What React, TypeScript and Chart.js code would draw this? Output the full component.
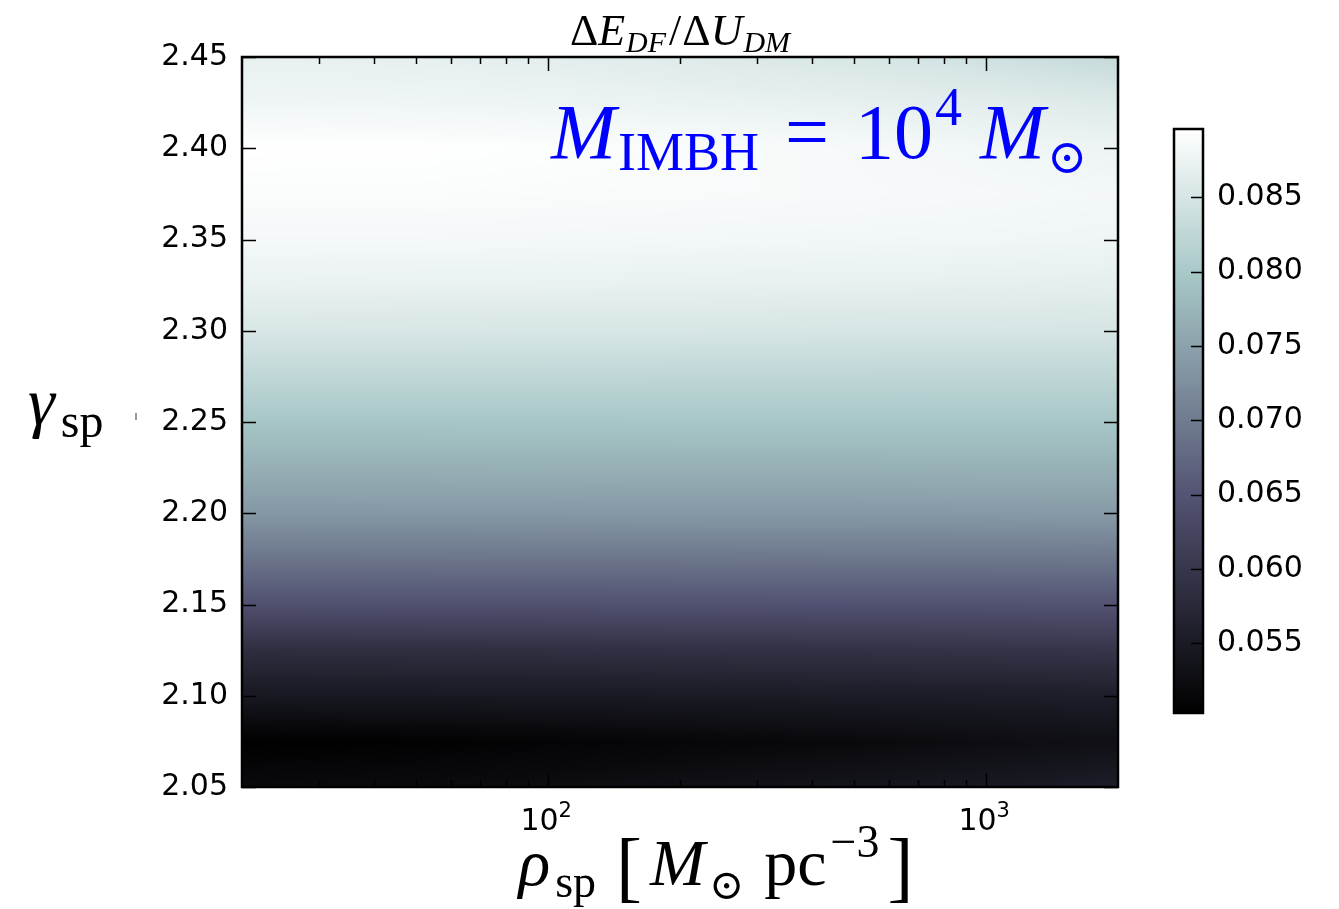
import React, { useEffect, useRef } from 'react';
import { Chart, registerables } from 'chart.js';

Chart.register(...registerables);

// ---- data ----
const RHO = [20, 50, 100, 200, 500, 1000, 2000];
const GAMMA = [2.05, 2.075, 2.1, 2.125, 2.15, 2.175, 2.2, 2.225, 2.25, 2.275, 2.3, 2.325, 2.35, 2.375, 2.4, 2.425, 2.45];
// rows follow GAMMA, columns follow RHO
const DF_RATIO: number[][] = [
  [0.0520, 0.0522, 0.0525, 0.0530, 0.0538, 0.0546, 0.0555],
  [0.0503, 0.0506, 0.0510, 0.0514, 0.0519, 0.0525, 0.0530],
  [0.0545, 0.0546, 0.0547, 0.0549, 0.0551, 0.0553, 0.0556],
  [0.0584, 0.0585, 0.0587, 0.0589, 0.0591, 0.0594, 0.0597],
  [0.0644, 0.0645, 0.0645, 0.0646, 0.0647, 0.0647, 0.0648],
  [0.0692, 0.0692, 0.0693, 0.0693, 0.0694, 0.0694, 0.0695],
  [0.0736, 0.0737, 0.0737, 0.0738, 0.0738, 0.0739, 0.0740],
  [0.0767, 0.0767, 0.0768, 0.0768, 0.0768, 0.0769, 0.0769],
  [0.0796, 0.0796, 0.0796, 0.0797, 0.0797, 0.0797, 0.0797],
  [0.0825, 0.0825, 0.0825, 0.0824, 0.0824, 0.0823, 0.0823],
  [0.0852, 0.0852, 0.0851, 0.0851, 0.0850, 0.0850, 0.0849],
  [0.0872, 0.0871, 0.0871, 0.0870, 0.0869, 0.0868, 0.0866],
  [0.0884, 0.0884, 0.0883, 0.0882, 0.0881, 0.0880, 0.0878],
  [0.0891, 0.0891, 0.0890, 0.0889, 0.0887, 0.0885, 0.0882],
  [0.0896, 0.0895, 0.0893, 0.0890, 0.0886, 0.0881, 0.0876],
  [0.0879, 0.0878, 0.0876, 0.0873, 0.0869, 0.0864, 0.0858],
  [0.0870, 0.0868, 0.0865, 0.0860, 0.0852, 0.0842, 0.0830],
];
const Y_TICKS = [2.05, 2.1, 2.15, 2.2, 2.25, 2.3, 2.35, 2.4, 2.45];
const X_MAJOR = [100, 1000];
const X_MAJOR_LABELS = ['2', '3'];
const X_MINOR = [30, 40, 50, 60, 70, 80, 90, 200, 300, 400, 500, 600, 700, 800, 900];
const CB_TICKS = [0.055, 0.06, 0.065, 0.07, 0.075, 0.08, 0.085];
const VMIN = 0.0503;
const VMAX = 0.0896;

const SANS = '"DejaVu Sans", sans-serif';
const SERIF = '"Liberation Serif", "DejaVu Serif", serif';

function bone(t: number): [number, number, number] {
  t = Math.max(0, Math.min(1, t));
  const r = t < 0.746032 ? (0.652778 * t) / 0.746032 : 0.652778 + ((t - 0.746032) * (1 - 0.652778)) / (1 - 0.746032);
  const g =
    t < 0.365079
      ? (0.319444 * t) / 0.365079
      : t < 0.746032
      ? 0.319444 + ((t - 0.365079) * (0.777778 - 0.319444)) / (0.746032 - 0.365079)
      : 0.777778 + ((t - 0.746032) * (1 - 0.777778)) / (1 - 0.746032);
  const b = t < 0.365079 ? (0.444444 * t) / 0.365079 : 0.444444 + ((t - 0.365079) * (1 - 0.444444)) / (1 - 0.365079);
  return [Math.round(r * 255), Math.round(g * 255), Math.round(b * 255)];
}

function locate(arr: number[], v: number): [number, number] {
  const n = arr.length;
  if (v <= arr[0]) return [0, 0];
  if (v >= arr[n - 1]) return [n - 2, 1];
  for (let i = 0; i < n - 1; i++) {
    if (v >= arr[i] && v <= arr[i + 1]) return [i, (v - arr[i]) / (arr[i + 1] - arr[i])];
  }
  return [n - 2, 1];
}

const LOG_RHO = RHO.map((r) => Math.log10(r));

function valueAt(rho: number, gamma: number): number {
  const [i, fx] = locate(LOG_RHO, Math.log10(rho));
  const [j, fy] = locate(GAMMA, gamma);
  const a = DF_RATIO[j][i], b = DF_RATIO[j][i + 1];
  const c = DF_RATIO[j + 1][i], d = DF_RATIO[j + 1][i + 1];
  return (a * (1 - fx) + b * fx) * (1 - fy) + (c * (1 - fx) + d * fx) * fy;
}

type Part = { t: string; font: string; dy?: number; gap?: number };

function drawRich(ctx: CanvasRenderingContext2D, parts: Part[], x: number, y: number, align: 'left' | 'center', color: string) {
  ctx.save();
  ctx.fillStyle = color;
  ctx.textBaseline = 'alphabetic';
  ctx.textAlign = 'left';
  let total = 0;
  for (const p of parts) {
    ctx.font = p.font;
    total += ctx.measureText(p.t).width + (p.gap || 0);
  }
  let cx = align === 'center' ? x - total / 2 : x;
  for (const p of parts) {
    ctx.font = p.font;
    ctx.fillText(p.t, cx, y + (p.dy || 0));
    cx += ctx.measureText(p.t).width + (p.gap || 0);
  }
  ctx.restore();
}

const heatmapPlugin = {
  id: 'heatmap',
  beforeDatasetsDraw(chart: any) {
    const { ctx, chartArea: a, scales } = chart;
    const xs = scales.x, ys = scales.y;
    const left = Math.round(a.left), top = Math.round(a.top);
    const w = Math.round(a.right) - left, h = Math.round(a.bottom) - top;
    const off = document.createElement('canvas');
    off.width = w;
    off.height = h;
    const octx = off.getContext('2d')!;
    const img = octx.createImageData(w, h);
    const rhoCol: number[] = [];
    for (let px = 0; px < w; px++) rhoCol.push(xs.getValueForPixel(left + px + 0.5));
    for (let py = 0; py < h; py++) {
      const g = ys.getValueForPixel(top + py + 0.5);
      for (let px = 0; px < w; px++) {
        const v = valueAt(rhoCol[px], g);
        const c = bone((v - VMIN) / (VMAX - VMIN));
        const k = (py * w + px) * 4;
        img.data[k] = c[0];
        img.data[k + 1] = c[1];
        img.data[k + 2] = c[2];
        img.data[k + 3] = 255;
      }
    }
    octx.putImageData(img, 0, 0);
    ctx.drawImage(off, left, top);
  },
};

const decorPlugin = {
  id: 'decor',
  afterDraw(chart: any) {
    const { ctx, chartArea: a, scales } = chart;
    const xs = scales.x, ys = scales.y;
    ctx.save();
    ctx.strokeStyle = '#000';
    // ticks
    ctx.lineWidth = 1.5;
    ctx.beginPath();
    for (const v of Y_TICKS) {
      const p = Math.round(ys.getPixelForValue(v)) + 0.5;
      ctx.moveTo(a.left, p); ctx.lineTo(a.left + 14, p);
      ctx.moveTo(a.right, p); ctx.lineTo(a.right - 14, p);
    }
    for (const v of X_MAJOR) {
      const p = Math.round(xs.getPixelForValue(v)) + 0.5;
      ctx.moveTo(p, a.bottom); ctx.lineTo(p, a.bottom - 14);
      ctx.moveTo(p, a.top); ctx.lineTo(p, a.top + 14);
    }
    for (const v of X_MINOR) {
      const p = Math.round(xs.getPixelForValue(v)) + 0.5;
      ctx.moveTo(p, a.bottom); ctx.lineTo(p, a.bottom - 7);
      ctx.moveTo(p, a.top); ctx.lineTo(p, a.top + 7);
    }
    ctx.stroke();
    // frame
    ctx.lineWidth = 2.5;
    ctx.strokeRect(a.left, a.top, a.right - a.left, a.bottom - a.top);
    ctx.restore();

    // x tick labels 10^n
    X_MAJOR.forEach((v, i) => {
      const p = xs.getPixelForValue(v);
      drawRich(ctx, [
        { t: '10', font: `30px ${SANS}` },
        { t: X_MAJOR_LABELS[i], font: `21px ${SANS}`, dy: -13 },
      ], p - 2, 830, 'center', '#000');
    });

    // title
    drawRich(ctx, [
      { t: 'Δ', font: `44px ${SERIF}` },
      { t: 'E', font: `italic 44px ${SERIF}`, gap: 1 },
      { t: 'DF', font: `italic 30px ${SERIF}`, dy: 7, gap: 3 },
      { t: '/', font: `44px ${SERIF}`, gap: 1 },
      { t: 'Δ', font: `44px ${SERIF}` },
      { t: 'U', font: `italic 44px ${SERIF}`, gap: 1 },
      { t: 'DM', font: `italic 30px ${SERIF}`, dy: 7 },
    ], 680, 45, 'center', '#000');

    // x label
    drawRich(ctx, [
      { t: 'ρ', font: `italic 66px ${SERIF}`, gap: 5 },
      { t: 'sp', font: `46px ${SERIF}`, dy: 12, gap: 20 },
      { t: '[', font: `78px ${SERIF}`, dy: 8, gap: 8 },
      { t: 'M', font: `italic 66px ${SERIF}`, gap: 4 },
      { t: '⊙', font: `42px ${SERIF}`, dy: 14, gap: 20 },
      { t: 'pc', font: `66px ${SERIF}`, gap: 4 },
      { t: '−3', font: `46px ${SERIF}`, dy: -28, gap: 8 },
      { t: ']', font: `78px ${SERIF}`, dy: 8 },
    ], 716, 885, 'center', '#000');

    // y label
    drawRich(ctx, [
      { t: 'γ', font: `italic 68px ${SERIF}`, gap: 6 },
      { t: 'sp', font: `48px ${SERIF}`, dy: 12 },
    ], 28, 425, 'left', '#000');
    ctx.save();
    ctx.strokeStyle = '#777';
    ctx.lineWidth = 1.5;
    ctx.beginPath();
    ctx.moveTo(136, 413); ctx.lineTo(136, 420);
    ctx.stroke();
    ctx.restore();

    // annotation
    drawRich(ctx, [
      { t: 'M', font: `italic 78px ${SERIF}`, gap: 2 },
      { t: 'IMBH', font: `54px ${SERIF}`, dy: 12, gap: 26 },
      { t: '=', font: `78px ${SERIF}`, gap: 26 },
      { t: '10', font: `78px ${SERIF}`, gap: 2 },
      { t: '4', font: `54px ${SERIF}`, dy: -33, gap: 18 },
      { t: 'M', font: `italic 78px ${SERIF}`, gap: 2 },
      { t: '⊙', font: `48px ${SERIF}`, dy: 15 },
    ], 551, 158, 'left', '#0000ff');
  },
};

const colorbarPlugin = {
  id: 'colorbar',
  beforeDatasetsDraw(chart: any) {
    const { ctx, chartArea: a, scales } = chart;
    const ys = scales.y;
    const top = Math.round(a.top), bottom = Math.round(a.bottom);
    for (let py = top; py < bottom; py++) {
      const v = ys.getValueForPixel(py + 0.5);
      const c = bone((v - VMIN) / (VMAX - VMIN));
      ctx.fillStyle = `rgb(${c[0]},${c[1]},${c[2]})`;
      ctx.fillRect(a.left, py, a.right - a.left, 1);
    }
  },
  afterDraw(chart: any) {
    const { ctx, chartArea: a, scales } = chart;
    const ys = scales.y;
    ctx.save();
    ctx.strokeStyle = '#000';
    ctx.lineWidth = 1.5;
    ctx.beginPath();
    for (const v of CB_TICKS) {
      const p = Math.round(ys.getPixelForValue(v)) + 0.5;
      ctx.moveTo(a.right, p); ctx.lineTo(a.right - 12, p);
    }
    ctx.stroke();
    ctx.lineWidth = 2.5;
    ctx.strokeRect(a.left, a.top, a.right - a.left, a.bottom - a.top);
    ctx.restore();
  },
};

export default function App() {
  const mainRef = useRef<HTMLCanvasElement>(null);
  const cbRef = useRef<HTMLCanvasElement>(null);

  useEffect(() => {
    const nodes: { x: number; y: number }[] = [];
    GAMMA.forEach((g) => RHO.forEach((r) => nodes.push({ x: r, y: g })));

    const main = new Chart(mainRef.current!, {
      type: 'scatter',
      data: { datasets: [{ data: nodes, pointRadius: 0, showLine: false }] },
      options: {
        responsive: false,
        animation: false,
        devicePixelRatio: 1,
        layout: { padding: { left: 0, top: 57, right: 221, bottom: 122 } },
        plugins: { legend: { display: false }, tooltip: { enabled: false } },
        scales: {
          x: {
            type: 'logarithmic',
            min: 20,
            max: 2000,
            grid: { display: false, drawTicks: false },
            border: { display: false },
            ticks: { display: false },
            afterFit: (s: any) => { s.height = 0; },
          },
          y: {
            type: 'linear',
            min: 2.05,
            max: 2.45,
            grid: { display: false, drawTicks: false },
            border: { display: false },
            ticks: {
              autoSkip: false,
              padding: 14,
              color: '#000',
              font: { family: SANS, size: 30 },
              callback: (v: any) => Number(v).toFixed(2),
            },
            afterBuildTicks: (s: any) => { s.ticks = Y_TICKS.map((v) => ({ value: v })); },
            afterFit: (s: any) => { s.width = 242; },
          },
        },
      } as any,
      plugins: [heatmapPlugin, decorPlugin],
    });

    const cb = new Chart(cbRef.current!, {
      type: 'scatter',
      data: { datasets: [{ data: [], pointRadius: 0 }] },
      options: {
        responsive: false,
        animation: false,
        devicePixelRatio: 1,
        layout: { padding: { left: 1174, top: 129, right: 0, bottom: 196 } },
        plugins: { legend: { display: false }, tooltip: { enabled: false } },
        scales: {
          x: { display: false, min: 0, max: 1 },
          y: {
            position: 'right',
            min: VMIN,
            max: VMAX,
            grid: { display: false, drawTicks: false },
            border: { display: false },
            ticks: {
              autoSkip: false,
              padding: 14,
              color: '#000',
              font: { family: SANS, size: 30 },
              callback: (v: any) => Number(v).toFixed(3),
            },
            afterBuildTicks: (s: any) => { s.ticks = CB_TICKS.map((v) => ({ value: v })); },
            afterFit: (s: any) => { s.width = 136; },
          },
        },
      } as any,
      plugins: [colorbarPlugin],
    });

    return () => {
      main.destroy();
      cb.destroy();
    };
  }, []);

  return (
    <div style={{ position: 'absolute', left: 0, top: 0, width: 1339, height: 909, background: '#fff' }}>
      <canvas ref={mainRef} width={1339} height={909} style={{ position: 'absolute', left: 0, top: 0 }} />
      <canvas ref={cbRef} width={1339} height={909} style={{ position: 'absolute', left: 0, top: 0 }} />
    </div>
  );
}
